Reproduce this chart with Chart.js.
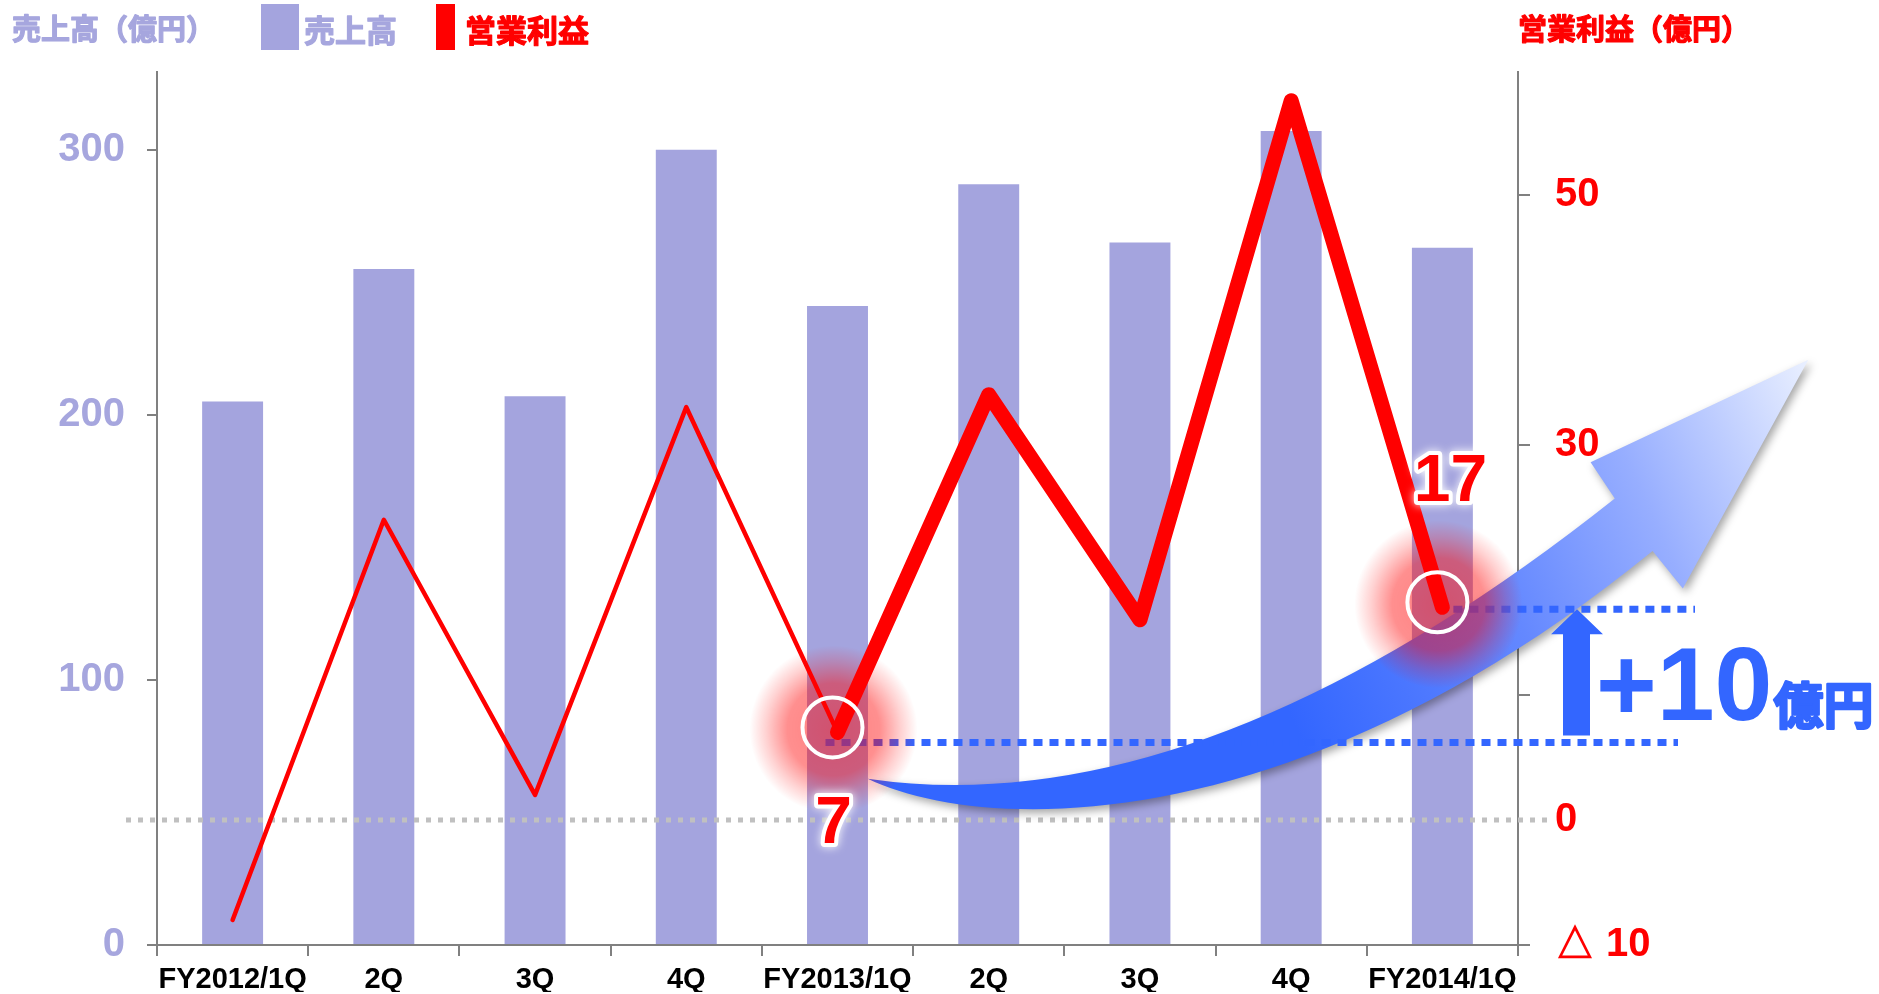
<!DOCTYPE html>
<html lang="ja">
<head>
<meta charset="utf-8">
<title>売上高・営業利益</title>
<script src="https://cdn.jsdelivr.net/npm/chart.js@4.4.1/dist/chart.umd.min.js"></script>
<style>
  html, body { margin: 0; padding: 0; background: #fff; }
  #wrap { width: 1879px; height: 994px; position: relative; }
</style>
</head>
<body>
<div id="wrap"><canvas id="grafica"></canvas></div>
<script>
// datos
const quarters = ['FY2012/1Q', '2Q', '3Q', '4Q', 'FY2013/1Q', '2Q', '3Q', '4Q', 'FY2014/1Q'];
const sales = [205, 255, 207, 300, 241, 287, 265, 307, 263];       // 売上高（億円）
const opIncome = [-8, 24, 2, 33, 7, 34, 16, 57.5, 17];            // 営業利益（億円）
const salesTicks = [0, 100, 200, 300];
const incomeTicks = [-10, 0, 10, 30, 50];
const incomeTickLabels = ['△ 10', '0', '', '30', '50'];
const markedPoints = [4, 8];   // FY2013/1Q and FY2014/1Q

const PURPLE = '#a4a4de';
const PURPLE_TXT = '#a6a6de';
const RED = '#ff0000';
const BLUE = '#3366ff';
const AXIS = '#808080';
const NUM_FONT = "'Liberation Sans', Arial, sans-serif";
const JP_FONT = "'Noto Sans CJK JP', 'Noto Sans', sans-serif";

// blue arrow outline, in (category index, 営業利益 value)
const arrowTail = [4.2, 3.3];
const arrowUpperCtrl = [6.4, -0.6];
const arrowUpperNotch = [9.14, 25.7];
const arrowUpperBarb = [8.98, 28.6];
const arrowTip = [10.42, 36.8];
const arrowLowerBarb = [9.59, 18.5];
const arrowLowerNotch = [9.39, 21.5];
const arrowLowerCtrl1 = [7.0, -2.1];
const arrowLowerCtrl2 = [4.94, -1.0];

// texto CJK un poco mas grueso
function boldText(ctx, txt, x, y, extra) {
    ctx.save();
    ctx.strokeStyle = ctx.fillStyle;
    ctx.lineWidth = extra;
    ctx.lineJoin = 'round';
    ctx.strokeText(txt, x, y);
    ctx.fillText(txt, x, y);
    ctx.restore();
}

const decor = {
    id: 'decor',
    beforeDatasetDraw(chart, args) {
        if (args.index !== 1) return;
        const ctx = chart.ctx;
        const xs = chart.scales.x, ys = chart.scales.y1;
        const ca = chart.chartArea;
        const X = i => xs.getPixelForValue(0) + i * (xs.getPixelForValue(1) - xs.getPixelForValue(0));
        const Y = v => ys.getPixelForValue(v);
        const P = p => [X(p[0]), Y(p[1])];

        // gray dotted zero line
        ctx.save();
        ctx.strokeStyle = '#c0c0c0';
        ctx.lineWidth = 5;
        ctx.setLineDash([5, 7]);
        ctx.beginPath();
        ctx.moveTo(ca.left - 31, Y(0));
        ctx.lineTo(ca.right + 34, Y(0));
        ctx.stroke();
        ctx.restore();

        // big curved arrow
        const t = P(arrowTail), uc = P(arrowUpperCtrl), un = P(arrowUpperNotch), ub = P(arrowUpperBarb);
        const tip = P(arrowTip), lb = P(arrowLowerBarb), ln = P(arrowLowerNotch);
        const lc1 = P(arrowLowerCtrl1), lc2 = P(arrowLowerCtrl2);
        ctx.save();
        const g = ctx.createLinearGradient(t[0], t[1], tip[0], tip[1]);
        g.addColorStop(0, BLUE);
        g.addColorStop(0.4, BLUE);
        g.addColorStop(0.64, '#6488ff');
        g.addColorStop(0.8, '#97aeff');
        g.addColorStop(1, '#eaf0ff');
        ctx.fillStyle = g;
        ctx.shadowColor = 'rgba(0,0,0,0.35)';
        ctx.shadowBlur = 8;
        ctx.shadowOffsetX = 3;
        ctx.shadowOffsetY = 4;
        ctx.beginPath();
        ctx.moveTo(t[0], t[1]);
        ctx.quadraticCurveTo(uc[0], uc[1], un[0], un[1]);
        ctx.lineTo(ub[0], ub[1]);
        ctx.lineTo(tip[0], tip[1]);
        ctx.lineTo(lb[0], lb[1]);
        ctx.lineTo(ln[0], ln[1]);
        ctx.bezierCurveTo(lc1[0], lc1[1], lc2[0], lc2[1], t[0], t[1]);
        ctx.closePath();
        ctx.fill();
        ctx.restore();

        // blue dotted level lines
        const a = markedPoints[0], b = markedPoints[1];
        ctx.save();
        ctx.strokeStyle = BLUE;
        ctx.lineWidth = 7;
        ctx.setLineDash([9, 7]);
        ctx.beginPath();
        ctx.moveTo(X(a) - 12, Y(opIncome[a]) + 10);
        ctx.lineTo(ca.right + 160, Y(opIncome[a]) + 10);
        ctx.moveTo(X(b) - 5, Y(opIncome[b]) + 2);
        ctx.lineTo(ca.right + 177, Y(opIncome[b]) + 2);
        ctx.stroke();
        ctx.restore();

        // red glow
        markedPoints.forEach(i => {
            const cx = X(i) - 4, cy = Y(opIncome[i]) - 3;
            const rg = ctx.createRadialGradient(cx, cy, 0, cx, cy, 84);
            rg.addColorStop(0, 'rgba(255,0,0,0.5)');
            rg.addColorStop(0.55, 'rgba(255,0,0,0.44)');
            rg.addColorStop(0.8, 'rgba(255,0,0,0.18)');
            rg.addColorStop(1, 'rgba(255,0,0,0)');
            ctx.fillStyle = rg;
            ctx.beginPath();
            ctx.arc(cx, cy, 84, 0, Math.PI * 2);
            ctx.fill();
        });
    },
    afterDatasetsDraw(chart) {
        const ctx = chart.ctx;
        const xs = chart.scales.x, ys = chart.scales.y1;
        const ca = chart.chartArea;
        const X = i => xs.getPixelForValue(0) + i * (xs.getPixelForValue(1) - xs.getPixelForValue(0));
        const Y = v => ys.getPixelForValue(v);
        const a = markedPoints[0], b = markedPoints[1];

        // white rings
        ctx.save();
        ctx.strokeStyle = '#fff';
        ctx.lineWidth = 4;
        markedPoints.forEach(i => {
            ctx.beginPath();
            ctx.arc(X(i) - 5, Y(opIncome[i]) - 5, 30, 0, Math.PI * 2);
            ctx.stroke();
        });
        ctx.restore();

        // value labels with white halo
        const halo = (txt, x, y) => {
            ctx.save();
            ctx.font = 'bold 66px ' + NUM_FONT;
            ctx.textAlign = 'center';
            ctx.textBaseline = 'alphabetic';
            ctx.shadowColor = 'rgba(255,255,255,1)';
            ctx.shadowBlur = 10;
            ctx.strokeStyle = '#fff';
            ctx.lineWidth = 8;
            ctx.lineJoin = 'round';
            ctx.strokeText(txt, x, y);
            ctx.shadowBlur = 0;
            ctx.fillStyle = RED;
            ctx.fillText(txt, x, y);
            ctx.restore();
        };
        halo(String(opIncome[a]), X(a) - 4, Y(opIncome[a]) + 111);
        halo(String(opIncome[b]), X(b) + 8, Y(opIncome[b]) - 106);

        // up arrow
        const yTop = Y(opIncome[b]) + 2, yBot = Y(opIncome[a]) + 3;
        const r = ca.right;
        ctx.save();
        ctx.fillStyle = BLUE;
        ctx.beginPath();
        ctx.moveTo(r + 45, yBot);
        ctx.lineTo(r + 45, yTop + 25);
        ctx.lineTo(r + 33, yTop + 25);
        ctx.lineTo(r + 59, yTop);
        ctx.lineTo(r + 85, yTop + 25);
        ctx.lineTo(r + 72, yTop + 25);
        ctx.lineTo(r + 72, yBot);
        ctx.closePath();
        ctx.fill();

        // +10億円
        ctx.textBaseline = 'alphabetic';
        ctx.textAlign = 'left';
        ctx.font = 'bold 104px ' + NUM_FONT;
        const diff = '+' + (opIncome[b] - opIncome[a]);
        ctx.fillText(diff, r + 78, Y(opIncome[a]) - 12);
        const w = ctx.measureText(diff).width;
        ctx.font = 'bold 50px ' + JP_FONT;
        boldText(ctx, '億円', r + 79 + w, Y(opIncome[a]) - 8, 2.5);
        ctx.restore();

        // titles and legend
        ctx.save();
        ctx.textBaseline = 'middle';
        ctx.textAlign = 'left';
        ctx.font = 'bold 29px ' + JP_FONT;
        ctx.fillStyle = PURPLE_TXT;
        boldText(ctx, '売上高（億円）', 12, 29, 1.2);
        ctx.fillStyle = RED;
        boldText(ctx, '営業利益（億円）', ca.right, 29, 1.2);

        ctx.fillStyle = PURPLE;
        ctx.fillRect(261, 4, 38, 46);
        ctx.fillStyle = RED;
        ctx.fillRect(436, 4, 19, 46);
        ctx.font = 'bold 31px ' + JP_FONT;
        ctx.fillStyle = PURPLE_TXT;
        boldText(ctx, '売上高', 304, 30, 1.2);
        ctx.fillStyle = RED;
        boldText(ctx, '営業利益', 465, 30, 1.2);
        ctx.restore();
    }
};

const grafica = document.getElementById('grafica');

const data = {
    labels: quarters,
    datasets: [{
        type: 'bar',
        label: '売上高',
        data: sales,
        yAxisID: 'y',
        backgroundColor: PURPLE,
        barPercentage: 0.403,
        categoryPercentage: 1,
        order: 1
    }, {
        type: 'line',
        label: '営業利益',
        data: opIncome,
        yAxisID: 'y1',
        borderColor: RED,
        borderWidth: 4.5,
        borderJoinStyle: 'round',
        borderCapStyle: 'round',
        pointRadius: 0,
        tension: 0,
        segment: {
            borderWidth: ctx => ctx.p0DataIndex >= markedPoints[0] ? 15 : 4.5
        },
        order: 0
    }]
};

const config = {
    data: data,
    options: {
        responsive: true,
        maintainAspectRatio: false,
        animation: false,
        layout: { padding: { top: 72, left: 0, right: 0, bottom: 0 } },
        plugins: { legend: { display: false }, tooltip: { enabled: false } },
        scales: {
            x: {
                type: 'category',
                offset: true,
                afterFit: s => { s.height = 47; },
                grid: { offset: true, drawOnChartArea: false, drawTicks: true, tickLength: 11, color: AXIS, lineWidth: 2 },
                border: { color: AXIS, width: 2 },
                ticks: {
                    color: '#000',
                    padding: 7,
                    maxRotation: 0,
                    autoSkip: false,
                    font: { family: NUM_FONT, weight: 'bold', size: 29 }
                }
            },
            y: {
                position: 'left',
                min: 0,
                max: 329.3,
                afterFit: s => { s.width = 157; },
                afterBuildTicks: s => { s.ticks = salesTicks.map(v => ({ value: v })); },
                grid: { drawOnChartArea: false, tickLength: 10, color: AXIS, lineWidth: 2 },
                border: { color: AXIS, width: 2 },
                ticks: {
                    color: PURPLE_TXT,
                    padding: 22,
                    font: { family: NUM_FONT, weight: 'bold', size: 40 }
                }
            },
            y1: {
                position: 'right',
                min: -10,
                max: 59.8,
                afterFit: s => { s.width = 361; },
                afterBuildTicks: s => { s.ticks = incomeTicks.map(v => ({ value: v })); },
                grid: {
                    drawOnChartArea: false,
                    tickLength: 12,
                    lineWidth: 2,
                    color: ctx => (ctx.tick && ctx.tick.value === 0) ? 'rgba(0,0,0,0)' : AXIS
                },
                border: { color: AXIS, width: 2 },
                ticks: {
                    color: RED,
                    padding: 25,
                    font: { family: NUM_FONT, weight: 'bold', size: 40 },
                    callback: (v) => incomeTickLabels[incomeTicks.indexOf(v)]
                }
            }
        }
    },
    plugins: [decor]
};

new Chart(grafica, config);
</script>
</body>
</html>
